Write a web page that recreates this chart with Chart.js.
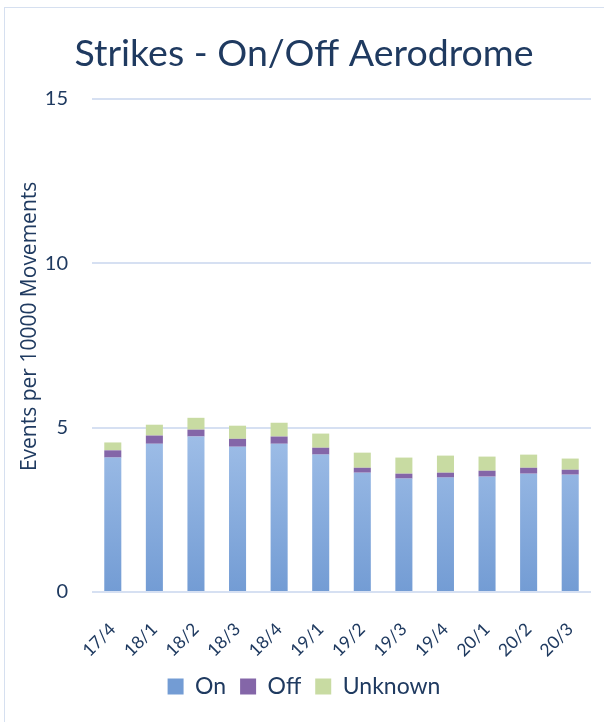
<!DOCTYPE html>
<html>
<head>
<meta charset="utf-8">
<script src="https://cdn.jsdelivr.net/npm/chart.js@4"></script>
<style>
  html, body { margin: 0; padding: 0; background: #fff; }
  #wrap { position: relative; width: 604px; height: 722px; overflow: hidden; }
  #frame { position: absolute; left: 4px; top: 7px; width: 640px; height: 760px; border: 1.5px solid #d6e0f0; box-sizing: border-box; }
  canvas { position: absolute; left: 0; top: 0; }
</style>
</head>
<body>
<div id="wrap">
  <div id="frame"></div>
  <canvas id="chart" width="604" height="722"></canvas>
</div>
<script>
// quarter labels
const quarters = ['17/4', '18/1', '18/2', '18/3', '18/4', '19/1', '19/2', '19/3', '19/4', '20/1', '20/2', '20/3'];
// events per 10000 movements, stacked
const onValues = [4.09, 4.51, 4.73, 4.42, 4.51, 4.18, 3.63, 3.45, 3.48, 3.51, 3.60, 3.57];
const offValues = [0.22, 0.25, 0.21, 0.24, 0.22, 0.21, 0.15, 0.15, 0.15, 0.18, 0.18, 0.15];
const unknownValues = [0.24, 0.33, 0.36, 0.40, 0.42, 0.43, 0.46, 0.49, 0.52, 0.43, 0.40, 0.34];
const yTicks = [0, 5, 10, 15];

const FONT = 'Lato, "Open Sans", sans-serif';
const NAVY = '#1f3a60';

// vertical gradient like the Excel fill
function vGrad(top, bottom) {
    return ctx => {
        const area = ctx.chart.chartArea;
        if (!area) return bottom;
        const y = ctx.chart.scales.y;
        const g = ctx.chart.ctx.createLinearGradient(0, y.getPixelForValue(5), 0, y.getPixelForValue(0));
        g.addColorStop(0, top);
        g.addColorStop(1, bottom);
        return g;
    };
}

new Chart(document.getElementById('chart'), {
    type: 'bar',
    data: {
        labels: quarters,
        datasets: [
            { label: 'On', data: onValues, backgroundColor: vGrad('#a0bfe8', '#739cd4') },
            { label: 'Off', data: offValues, backgroundColor: '#8466a8' },
            { label: 'Unknown', data: unknownValues, backgroundColor: '#c8dba2' }
        ]
    },
    options: {
        responsive: false,
        animation: false,
        layout: { padding: { left: 17, right: 13, top: 31, bottom: 14 } },
        datasets: { bar: { categoryPercentage: 0.82, barPercentage: 0.5 } },
        scales: {
            x: {
                stacked: true,
                afterFit: axis => { axis.height = 69; axis.paddingLeft = 0; axis.paddingRight = 0; },
                grid: { display: false },
                border: { display: false },
                ticks: { color: NAVY, font: { family: FONT, size: 17.5 }, maxRotation: 45, minRotation: 45, padding: 19 }
            },
            y: {
                stacked: true,
                min: 0,
                max: 15,
                afterBuildTicks: axis => { axis.ticks = yTicks.map(v => ({ value: v })); },
                afterFit: axis => { axis.width = 75; },
                grid: { color: '#d6e0f2', lineWidth: 2, drawTicks: false },
                border: { display: false },
                ticks: { color: NAVY, font: { family: FONT, size: 20 }, padding: 24 },
                // leading spaces nudge the label upward like the original
                title: { display: true, text: '       Events per 10000 Movements', color: NAVY, font: { family: '"Open Sans", sans-serif', size: 21 }, padding: { top: 0, bottom: 0 } }
            }
        },
        plugins: {
            title: {
                display: true,
                text: 'Strikes - On/Off Aerodrome',
                color: NAVY,
                font: { family: FONT, size: 37.5, weight: 'normal' },
                padding: { top: 0, bottom: 23 }
            },
            legend: {
                position: 'bottom',
                labels: { color: NAVY, font: { family: FONT, size: 23 }, boxWidth: 16, boxHeight: 16, padding: 14 }
            },
            tooltip: { enabled: false }
        }
    }
});
</script>
</body>
</html>
